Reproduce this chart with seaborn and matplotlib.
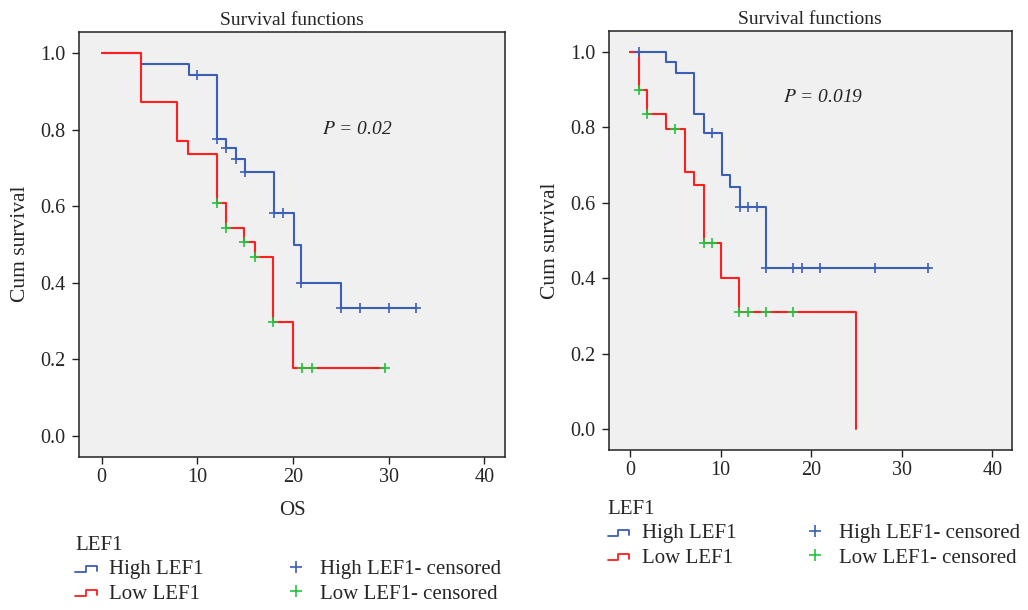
import numpy as np
import pandas as pd
import matplotlib
matplotlib.use("Agg")
import matplotlib.pyplot as plt
from matplotlib.lines import Line2D
from matplotlib.legend_handler import HandlerLine2D
import seaborn as sns

# ── data ────────────────────────────────────────────────────────────────────
# left panel (OS)
os_high_t = [0, 4.1, 9.1, 12.0, 13.0, 14.0, 15.0, 18.0, 20.1, 20.8, 25.0, 32.9]
os_high_s = [1.0, 0.972, 0.942, 0.776, 0.753, 0.722, 0.688, 0.583, 0.498, 0.400, 0.333, 0.333]
os_high_cens_t = [10.0, 12.0, 13.0, 14.0, 15.0, 18.0, 19.0, 20.8, 25.0, 27.0, 30.0, 32.9]
os_high_cens_s = [0.942, 0.776, 0.753, 0.722, 0.688, 0.583, 0.583, 0.400, 0.333, 0.333, 0.333, 0.333]

os_low_t = [0, 4.1, 7.9, 9.0, 12.0, 13.0, 14.9, 16.0, 17.9, 20.0, 29.6]
os_low_s = [1.0, 0.872, 0.770, 0.737, 0.608, 0.543, 0.505, 0.467, 0.298, 0.178, 0.178]
os_low_cens_t = [12.0, 13.0, 14.9, 16.0, 17.9, 20.9, 22.0, 29.6]
os_low_cens_s = [0.608, 0.543, 0.505, 0.467, 0.298, 0.178, 0.178, 0.178]

# right panel
r_high_t = [0, 3.9, 5.1, 7.0, 8.2, 10.1, 11.0, 12.1, 15.0, 33.0]
r_high_s = [1.0, 0.973, 0.944, 0.835, 0.784, 0.673, 0.642, 0.589, 0.428, 0.428]
r_high_cens_t = [1.0, 9.0, 12.1, 13.0, 14.0, 15.0, 18.0, 19.0, 21.0, 27.0, 32.9]
r_high_cens_s = [1.0, 0.784, 0.589, 0.589, 0.589, 0.428, 0.428, 0.428, 0.428, 0.428, 0.428]

r_low_t = [0, 1.0, 1.9, 4.0, 6.0, 7.1, 8.1, 10.0, 12.0, 25.0]
r_low_s = [1.0, 0.899, 0.834, 0.796, 0.682, 0.647, 0.494, 0.401, 0.311, 0.0]
r_low_cens_t = [1.0, 1.9, 5.0, 8.1, 9.0, 12.0, 13.0, 15.0, 18.0]
r_low_cens_s = [0.899, 0.834, 0.796, 0.494, 0.494, 0.311, 0.311, 0.311, 0.311]

x_ticks = [0, 10, 20, 30, 40]
y_ticks = [0.0, 0.2, 0.4, 0.6, 0.8, 1.0]
legend_labels = ["High LEF1", "Low LEF1", "High LEF1- censored", "Low LEF1- censored"]

BLUE = "#3b5fb6"
RED = "#ff1f1f"
GREEN = "#22c23f"
BG = "#f0f0f0"

sns.set_theme(style="ticks")
plt.rcParams["font.family"] = ["Liberation Serif", "DejaVu Serif"]
plt.rcParams["mathtext.fontset"] = "stix"


class HandlerStep(HandlerLine2D):
    """Small step-shaped icon, like the SPSS survival legend."""
    def create_artists(self, legend, orig_handle, xdescent, ydescent,
                       width, height, fontsize, trans):
        x0, x1 = -xdescent, -xdescent + width
        yl = -ydescent + 0.15 * height
        yh = -ydescent + 0.6 * height
        xm = x0 + 0.5 * width
        line = Line2D([x0, xm, xm, x1, x1], [yl, yl, yh, yh, yl + 0.1 * height],
                      color=orig_handle.get_color(), lw=1.3)
        line.set_transform(trans)
        return [line]


def step_df(t, s):
    return pd.DataFrame({"time": t, "surv": s})


def draw_panel(ax, high, low, high_c, low_c, ptext, pxy):
    sns.lineplot(data=step_df(*high), x="time", y="surv", ax=ax, color=BLUE,
                 drawstyle="steps-post", lw=1.5, estimator=None, sort=False,
                 zorder=3)
    sns.lineplot(data=step_df(*low), x="time", y="surv", ax=ax, color=RED,
                 drawstyle="steps-post", lw=1.5, estimator=None, sort=False,
                 zorder=4)
    sns.scatterplot(data=step_df(*high_c), x="time", y="surv", ax=ax,
                    marker="+", color=BLUE, s=45, linewidth=1.2, zorder=5)
    sns.scatterplot(data=step_df(*low_c), x="time", y="surv", ax=ax,
                    marker="+", color=GREEN, s=45, linewidth=1.2, zorder=6)
    ax.set_facecolor(BG)
    ax.set_xlim(-2.35, 42.15)
    ax.set_ylim(-0.055, 1.056)
    ax.set_xticks(x_ticks)
    ax.set_yticks(y_ticks)
    ax.set_yticklabels([f"{v:.1f}" for v in y_ticks])
    ax.tick_params(labelsize=14.5, length=5, width=1, color="#222222",
                   direction="out")
    ax.tick_params(axis="x", pad=3)
    ax.tick_params(axis="y", pad=5)
    for sp in ax.spines.values():
        sp.set_visible(True)
        sp.set_color("#222222")
        sp.set_linewidth(1.1)
    ax.set_title("Survival functions", fontsize=14, pad=5)
    ax.set_ylabel("Cum survival", fontsize=15.5, labelpad=7)
    ax.text(pxy[0], pxy[1], ptext, fontsize=14, style="italic",
            ha="center", va="center")


def add_legend(fig, anchor, colspace):
    handles = [Line2D([], [], color=BLUE), Line2D([], [], color=RED),
               Line2D([], [], color=BLUE, marker="+", ls="none", ms=9, mew=1.2),
               Line2D([], [], color=GREEN, marker="+", ls="none", ms=9, mew=1.2)]
    leg = fig.legend(handles, legend_labels, loc="upper left",
                     bbox_to_anchor=anchor, ncol=2, frameon=False,
                     title="LEF1", fontsize=15, title_fontsize=15,
                     alignment="left", borderpad=0, borderaxespad=0,
                     handlelength=1.05, handletextpad=0.6,
                     columnspacing=colspace, labelspacing=0.22,
                     handler_map={handles[0]: HandlerStep(),
                                  handles[1]: HandlerStep()})
    return leg


fig = plt.figure(figsize=(10.28, 6.10), dpi=100)
ax1 = fig.add_axes([0.0771, 0.2513, 0.4141, 0.6967])
ax2 = fig.add_axes([0.5924, 0.2623, 0.3917, 0.6874])

draw_panel(ax1, (os_high_t, os_high_s), (os_low_t, os_low_s),
           (os_high_cens_t, os_high_cens_s), (os_low_cens_t, os_low_cens_s),
           r"$P$ = 0.02", (26.7, 0.80))
ax1.set_xlabel("OS", fontsize=15, labelpad=10)

draw_panel(ax2, (r_high_t, r_high_s), (r_low_t, r_low_s),
           (r_high_cens_t, r_high_cens_s), (r_low_cens_t, r_low_cens_s),
           r"$P$ = 0.019", (21.3, 0.88))
ax2.set_xlabel("")

add_legend(fig, (0.073, 0.121), 3.9)
add_legend(fig, (0.591, 0.180), 3.25)

fig.savefig("out.png", dpi=100)
